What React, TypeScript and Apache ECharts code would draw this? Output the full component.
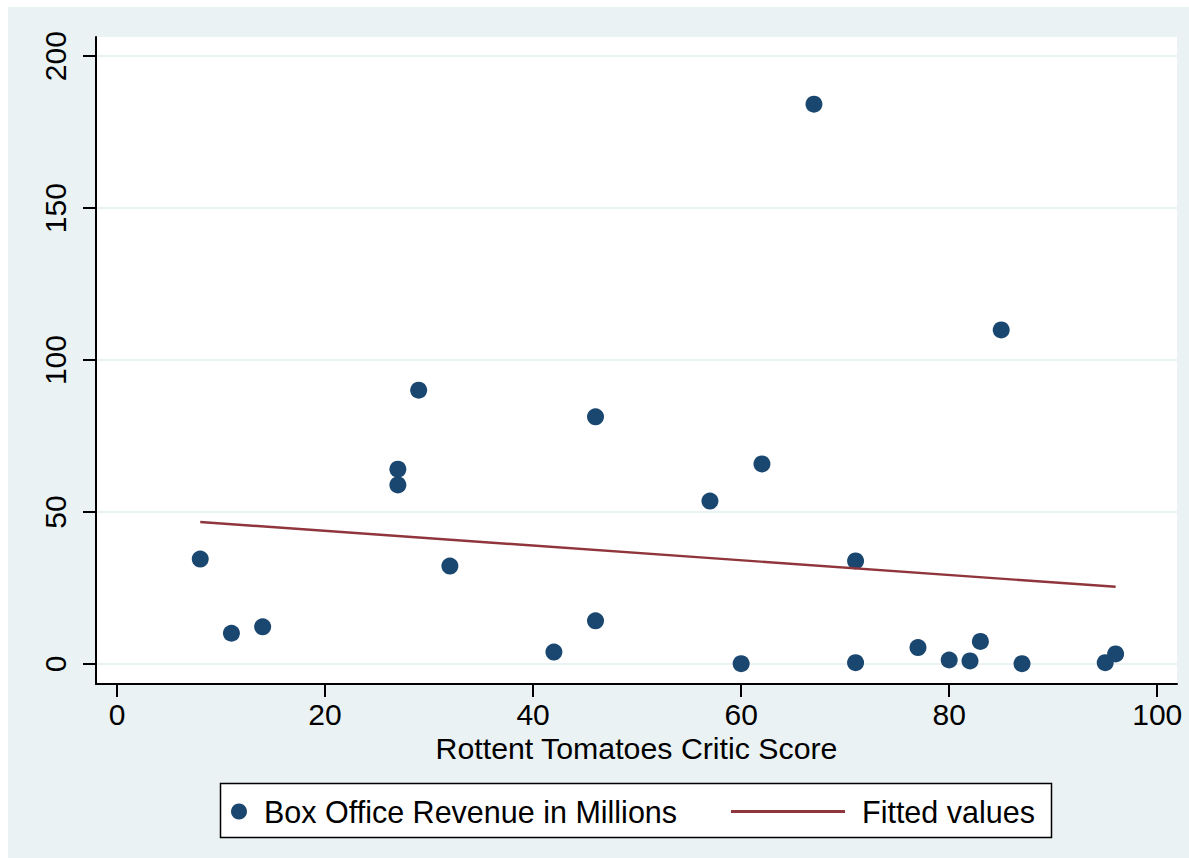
import React, { useEffect, useRef } from "react";
import * as echarts from "echarts";

const criticScores = [8, 11, 14, 27, 27, 29, 32, 42, 46, 46, 57, 60, 62, 67, 71, 71, 77, 80, 82, 83, 85, 87, 95, 96];
const revenueMillions = [34.5, 10.1, 12.2, 64.1, 58.9, 90.1, 32.2, 3.9, 81.3, 14.2, 53.6, 0.1, 65.8, 184.2, 33.9, 0.4, 5.4, 1.3, 1.0, 7.4, 109.9, 0.1, 0.4, 3.3];
const fittedX = [8, 96];
const fittedY = [46.7, 25.4];
const xTicks = [0, 20, 40, 60, 80, 100];
const yTicks = [0, 50, 100, 150, 200];

const FONT = "'Liberation Sans', Arial, Helvetica, sans-serif";
const NAVY = "#1a476f";
const MAROON = "#90353b";
const BG = "#eaf2f3";

export default function App() {
  const ref = useRef<HTMLDivElement>(null);
  useEffect(() => {
    document.body.style.margin = "0";
    const chart = echarts.init(ref.current!, null, { renderer: "svg" });
    const option: any = {
      animation: false,
      backgroundColor: BG,
      textStyle: { fontFamily: FONT },
      graphic: [
        { type: "rect", shape: { x: 0, y: 0, width: 1189, height: 7 }, style: { fill: "#ffffff" }, silent: true },
        { type: "rect", shape: { x: 0, y: 0, width: 8, height: 858 }, style: { fill: "#ffffff" }, silent: true },
        {
          type: "rect",
          z: 1,
          shape: { x: 220.5, y: 783.5, width: 831, height: 54 },
          style: { fill: "#ffffff", stroke: "#000000", lineWidth: 1.5 },
          silent: true,
        },
      ],
      grid: {
        left: 96,
        right: 12,
        top: 37,
        bottom: 174,
        show: true,
        backgroundColor: "#ffffff",
        borderWidth: 0,
      },
      xAxis: {
        type: "value",
        min: -2.02,
        max: 101.9,
        name: "Rottent Tomatoes Critic Score",
        nameLocation: "middle",
        nameGap: 43,
        nameTextStyle: { fontFamily: FONT, fontSize: 30.3, color: "#000" },
        axisLine: { show: true, onZero: false, lineStyle: { color: "#000", width: 2 } },
        axisTick: { show: true, length: 13, customValues: xTicks, lineStyle: { color: "#000", width: 2 } },
        axisLabel: { customValues: xTicks, margin: 15, fontFamily: FONT, fontSize: 30, color: "#000" },
        splitLine: { show: false },
      },
      yAxis: {
        type: "value",
        min: -6.6,
        max: 206.3,
        axisLine: { show: true, onZero: false, lineStyle: { color: "#000", width: 2 } },
        axisTick: { show: true, length: 13, customValues: yTicks, lineStyle: { color: "#000", width: 2 } },
        axisLabel: { customValues: yTicks, rotate: 90, margin: 26, fontFamily: FONT, fontSize: 30, color: "#000" },
        splitLine: { show: true, lineStyle: { color: BG, width: 2 } },
      },
      legend: [
        {
          data: ["Box Office Revenue in Millions"],
          left: 231,
          top: 796,
          padding: 0,
          icon: "circle",
          itemWidth: 16,
          itemHeight: 16,
          selectedMode: false,
          z: 5,
          textStyle: { fontFamily: FONT, fontSize: 30.5, color: "#000", padding: [0, 0, 0, 12] },
        },
        {
          data: ["Fitted values"],
          left: 731,
          top: 796,
          padding: 0,
          icon: "rect",
          itemWidth: 114,
          itemHeight: 3,
          selectedMode: false,
          z: 5,
          textStyle: { fontFamily: FONT, fontSize: 30.5, color: "#000", padding: [0, 0, 0, 12] },
        },
      ],
      series: [
        {
          name: "Box Office Revenue in Millions",
          type: "scatter",
          symbol: "circle",
          symbolSize: 17,
          itemStyle: { color: NAVY, opacity: 1 },
          data: criticScores.map((x, i) => [x, revenueMillions[i]]),
          z: 2,
        },
        {
          name: "Fitted values",
          type: "line",
          showSymbol: false,
          symbol: "none",
          lineStyle: { color: MAROON, width: 2.4 },
          itemStyle: { color: MAROON },
          data: fittedX.map((x, i) => [x, fittedY[i]]),
          z: 3,
        },
      ],
    };
    chart.setOption(option);
    return () => chart.dispose();
  }, []);
  return <div ref={ref} style={{ width: 1189, height: 858 }} />;
}
